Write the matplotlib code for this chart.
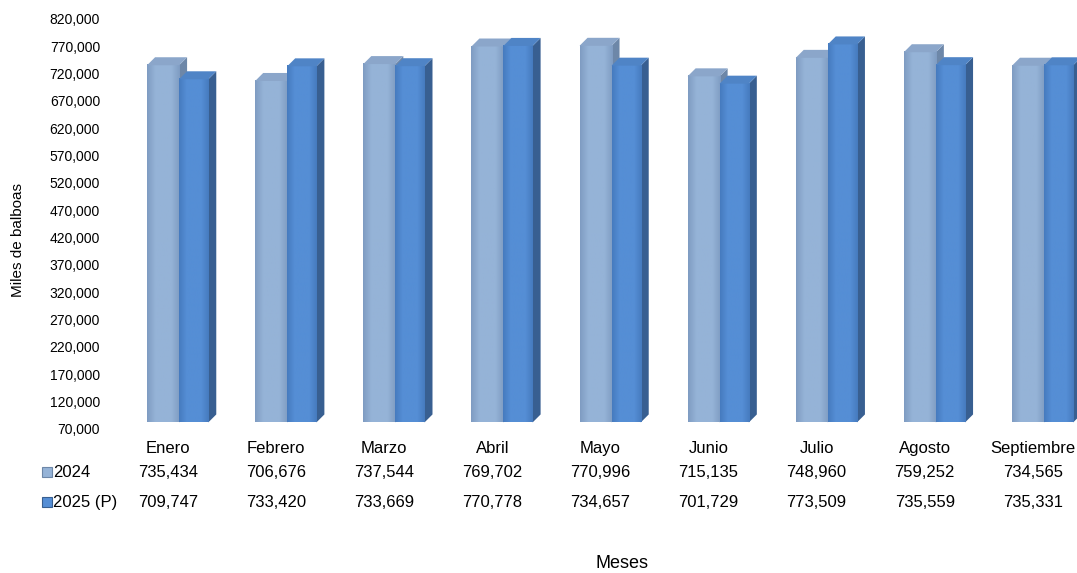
import numpy as np
import matplotlib
matplotlib.use("Agg")
import matplotlib.pyplot as plt
from matplotlib.patches import Polygon, Rectangle
from matplotlib.colors import LinearSegmentedColormap
from matplotlib.ticker import FuncFormatter

plt.rcParams['font.family'] = ['Liberation Sans', 'DejaVu Sans']

meses = ["Enero", "Febrero", "Marzo", "Abril", "Mayo", "Junio", "Julio", "Agosto", "Septiembre"]
serie_2024 = [735434, 706676, 737544, 769702, 770996, 715135, 748960, 759252, 734565]
serie_2025 = [709747, 733420, 733669, 770778, 734657, 701729, 773509, 735559, 735331]
series = ["2024", "2025 (P)"]

y_ticks = np.arange(70000, 820001, 50000)

# colours: front, side, top, front-edge
col_2024 = ("#95b3d7", "#6d87a8", "#8ba6ca", "#7f9cc2")
col_2025 = ("#558ed5", "#385f91", "#4f84c6", "#467bbf")

W, H = 1077, 573
fig = plt.figure(figsize=(W / 100, H / 100), dpi=100)
ax = fig.add_axes([114 / W, (573 - 429) / H, 973 / W, 410 / H])
for s in ax.spines.values():
    s.set_visible(False)
ax.set_xticks([])
ax.set_yticks(y_ticks)
ax.yaxis.set_major_formatter(FuncFormatter(lambda v, p: f"{int(v):,}"))
ax.tick_params(axis="y", length=0, labelsize=10, pad=10)

base = 82000
dx = 0.074
dy = 14600


def bar3d(x0, w, h, cols):
    front, side, top, edge = cols
    cmap = LinearSegmentedColormap.from_list("g", [edge, front, front, front, edge])
    grad = np.linspace(0, 1, 64).reshape(1, -1)
    ax.imshow(grad, cmap=cmap, extent=(x0, x0 + w, base, h), aspect="auto",
              interpolation="bilinear", zorder=3)
    ax.add_patch(Polygon([(x0 + w, base), (x0 + w + dx, base + dy), (x0 + w + dx, h + dy), (x0 + w, h)],
                         closed=True, facecolor=side, edgecolor="none", zorder=2))
    ax.add_patch(Polygon([(x0, h), (x0 + dx, h + dy), (x0 + w + dx, h + dy), (x0 + w, h)],
                         closed=True, facecolor=top, edgecolor="none", zorder=3))


for i in range(len(meses)):
    bar3d(i - 0.194, 0.296, serie_2024[i], col_2024)
    bar3d(i + 0.102, 0.27, serie_2025[i], col_2025)

ax.set_xlim(-0.5, 8.5)
ax.set_ylim(70000, 820000)


def fig_y(py):
    return (H - py) / H


# data table below the bars
for i, m in enumerate(meses):
    xc = (114 + 108.1 * (i + 0.5)) / W
    fig.text(xc, fig_y(453), m, ha="center", va="baseline", fontsize=12)
    fig.text(xc, fig_y(477), f"{serie_2024[i]:,}", ha="center", va="baseline", fontsize=12)
    fig.text(xc, fig_y(507), f"{serie_2025[i]:,}", ha="center", va="baseline", fontsize=12)

for lab, cols, py in zip(series, [col_2024, col_2025], [477, 507]):
    fig.patches.append(Rectangle((42 / W, fig_y(py)), 10 / W, 10 / H, transform=fig.transFigure,
                                 facecolor=cols[0], edgecolor=cols[1], linewidth=0.8))
    fig.text(53 / W, fig_y(py), lab, ha="left", va="baseline", fontsize=12)

fig.text(18 / W, fig_y(240), "Miles de balboas", rotation=90, ha="center", va="center", fontsize=11)
fig.text(622 / W, fig_y(563), "Meses", ha="center", va="center", fontsize=13)

fig.savefig("out.png", dpi=100)
